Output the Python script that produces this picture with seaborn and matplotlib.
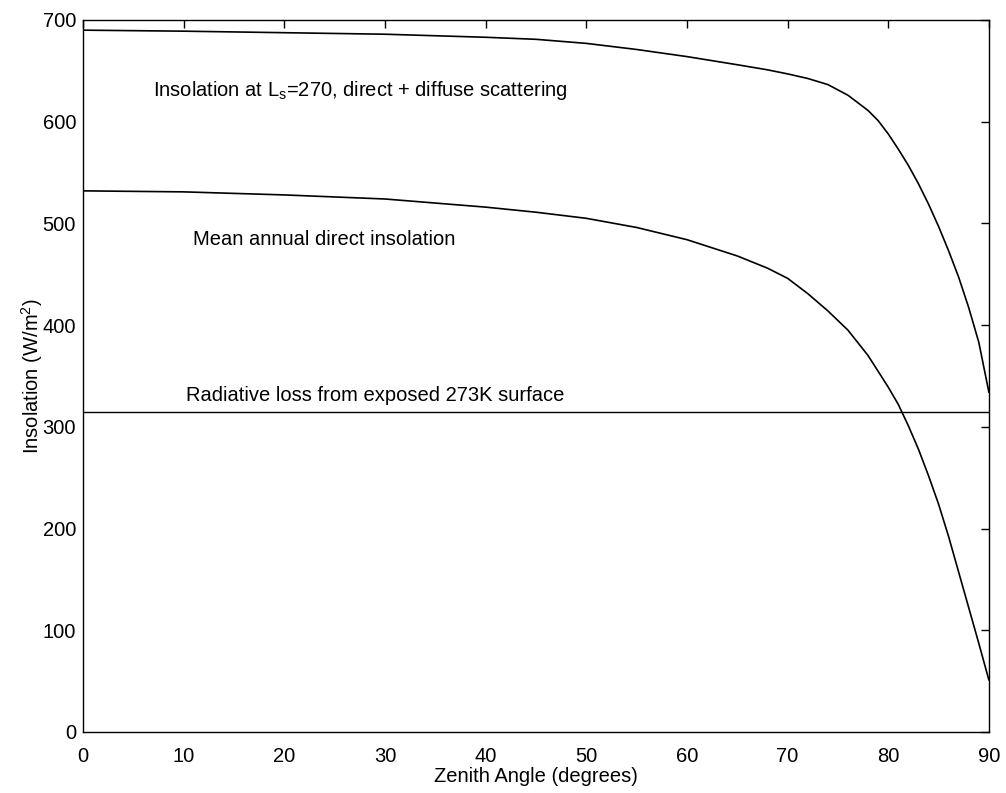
import matplotlib
matplotlib.use("Agg")
import matplotlib.pyplot as plt
import seaborn as sns
import pandas as pd

# Data
zenith_upper = [0, 10, 20, 30, 40, 45, 50, 55, 60, 65, 68, 70, 72, 74, 76, 78, 79, 80, 81, 82, 83, 84, 85, 86, 87, 88, 89, 90]
insol_upper = [690, 689, 687.5, 686, 683, 681, 677, 671, 664, 656, 651, 647, 642.5, 636.5, 626, 611, 601, 588, 573, 557, 539, 519, 497, 473, 447, 417, 383, 334]

zenith_lower = [0, 10, 20, 30, 40, 45, 50, 55, 60, 65, 68, 70, 72, 74, 76, 78, 80, 81, 82, 83, 84, 85, 86, 87, 88, 89, 90]
insol_lower = [532, 531, 528, 524, 516, 511, 505, 496, 484, 468, 456, 446, 431, 414, 395, 370, 339, 322, 301, 278, 252, 224, 192, 157, 122, 87, 51]

radiative_loss = 315

label_upper = "Insolation at L$_\\mathrm{s}$=270, direct + diffuse scattering"
label_lower = "Mean annual direct insolation"
label_loss = "Radiative loss from exposed 273K surface"

x_ticks = [0, 10, 20, 30, 40, 50, 60, 70, 80, 90]
y_ticks = [0, 100, 200, 300, 400, 500, 600, 700]

sns.set_theme(style="white")
plt.rcParams['font.family'] = ['Liberation Sans', 'DejaVu Sans']
plt.rcParams['mathtext.fontset'] = 'custom'
plt.rcParams['mathtext.rm'] = 'Liberation Sans'
plt.rcParams['text.color'] = 'black'
plt.rcParams['axes.labelcolor'] = 'black'

fs = 14.5

fig = plt.figure(figsize=(10.06, 7.93), dpi=100)
ax = fig.add_axes([0.0825, 0.077, 0.9005, 0.8978])

df_u = pd.DataFrame({"x": zenith_upper, "y": insol_upper})
df_l = pd.DataFrame({"x": zenith_lower, "y": insol_lower})
sns.lineplot(data=df_u, x="x", y="y", ax=ax, color="black", linewidth=1.2)
sns.lineplot(data=df_l, x="x", y="y", ax=ax, color="black", linewidth=1.2)
ax.axhline(radiative_loss, color="black", linewidth=1.0)

ax.set_xlim(0, 90)
ax.set_ylim(0, 700)
ax.set_xticks(x_ticks)
ax.set_yticks(y_ticks)
ax.tick_params(direction="in", length=6, width=1, top=True, right=True,
               labelsize=fs, colors="black")
ax.tick_params(axis="x", pad=10.5)
ax.tick_params(axis="y", pad=5)
for s in ax.spines.values():
    s.set_color("black")
    s.set_linewidth(1.0)
    s.set_visible(True)

ax.set_xlabel("Zenith Angle (degrees)", fontsize=fs, labelpad=1)
ax.set_ylabel("Insolation (W/m$^\\mathrm{2}$)", fontsize=fs, labelpad=-2)

ax.text(6.95, 631, label_upper, fontsize=fs, va="center", ha="left", color="black")
ax.text(10.9, 484, label_lower, fontsize=fs, va="center", ha="left", color="black")
ax.text(10.2, 331, label_loss, fontsize=fs, va="center", ha="left", color="black")

fig.savefig("out.png", dpi=100)
